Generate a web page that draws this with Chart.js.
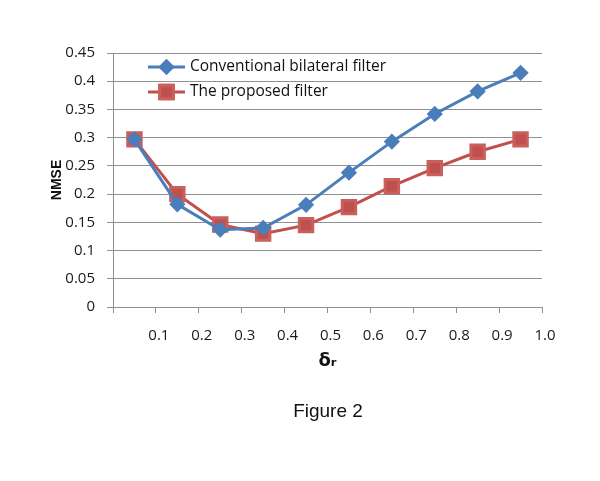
<!DOCTYPE html>
<html>
<head>
<meta charset="utf-8">
<script src="https://cdn.jsdelivr.net/npm/chart.js@4.4.1/dist/chart.umd.min.js"></script>
<style>
  html, body { margin: 0; padding: 0; background: #fff; }
  #wrap { position: relative; width: 600px; height: 481px; }
  #caption {
    position: absolute; left: 228px; width: 200px; top: 400px;
    text-align: center; font: 19px "Liberation Sans", Arial, sans-serif; color: #111;
  }
</style>
</head>
<body>
<div id="wrap">
  <canvas id="chart" width="600" height="481"></canvas>
  <div id="caption">Figure 2</div>
</div>
<script>
const deltaR = [0.05, 0.15, 0.25, 0.35, 0.45, 0.55, 0.65, 0.75, 0.85, 0.95]
const bilateral = [0.297, 0.182, 0.137, 0.140, 0.181, 0.238, 0.293, 0.342, 0.382, 0.415]
const proposed = [0.297, 0.200, 0.146, 0.130, 0.145, 0.177, 0.214, 0.246, 0.275, 0.297]
const seriesNames = ['Conventional bilateral filter', 'The proposed filter']

const BLUE = '#4A7EBB'
const RED = '#C0504D'
const GRID = '#909090'

function toPoints(xs, ys) {
    return xs.map((x, i) => ({ x: x, y: ys[i] }))
}

// legend drawn inside the plot, line + marker like the original
const insideLegend = {
    id: 'insideLegend',
    afterDatasetsDraw(chart) {
        const ctx = chart.ctx
        const x0 = 148, x1 = 185
        const rows = [67, 92]
        chart.data.datasets.forEach((ds, i) => {
            const y = rows[i]
            ctx.save()
            ctx.strokeStyle = ds.borderColor
            ctx.lineWidth = ds.borderWidth
            ctx.beginPath()
            ctx.moveTo(x0, y)
            ctx.lineTo(x1, y)
            ctx.stroke()
            Chart.helpers.drawPoint(ctx, {
                pointStyle: ds.pointStyle,
                radius: ds.pointRadius,
                borderWidth: 1,
                rotation: 0
            }, (x0 + x1) / 2, y)
            ctx.fillStyle = ds.pointBackgroundColor
            ctx.strokeStyle = ds.pointBorderColor
            ctx.fill()
            ctx.stroke()
            ctx.fillStyle = '#111'
            ctx.font = '15.5px "Open Sans", sans-serif'
            ctx.textBaseline = 'middle'
            ctx.fillText(ds.label, 190, y)
            ctx.restore()
        })
    }
}

new Chart(document.getElementById('chart'), {
    type: 'line',
    data: {
        datasets: [{
            label: seriesNames[0],
            data: toPoints(deltaR, bilateral),
            borderColor: BLUE,
            borderWidth: 3,
            pointStyle: 'rectRot',
            pointRadius: 6,
            pointBackgroundColor: BLUE,
            pointBorderColor: BLUE,
            tension: 0
        }, {
            label: seriesNames[1],
            data: toPoints(deltaR, proposed),
            borderColor: RED,
            borderWidth: 3,
            pointStyle: 'rect',
            pointRadius: 9.5,
            pointBackgroundColor: RED,
            pointBorderColor: '#c9605d',
            tension: 0
        }]
    },
    options: {
        responsive: false,
        animation: false,
        layout: { padding: { left: 49, right: 58, top: 53, bottom: 109 } },
        plugins: {
            legend: { display: false },
            tooltip: { enabled: false }
        },
        scales: {
            x: {
                type: 'linear',
                min: 0,
                max: 1,
                afterFit: s => { s.height = 65 },
                grid: { drawOnChartArea: false, drawTicks: true, tickLength: 6, color: GRID },
                border: { display: true, color: GRID },
                ticks: {
                    stepSize: 0.1,
                    padding: 14,
                    labelOffset: 3,
                    maxRotation: 0,
                    color: '#1a1a1a',
                    font: { family: 'Open Sans', size: 15 },
                    callback: v => v === 0 ? '' : v.toFixed(1)
                },
                title: {
                    display: true,
                    text: 'δᵣ',
                    color: '#111',
                    padding: 0,
                    font: { family: 'DejaVu Sans', size: 18, weight: 'bold' }
                }
            },
            y: {
                min: 0,
                max: 0.45,
                afterFit: s => { s.width = 64 },
                grid: { color: GRID, drawTicks: true, tickLength: 6 },
                border: { display: true, color: GRID },
                ticks: {
                    stepSize: 0.05,
                    padding: 12,
                    color: '#1a1a1a',
                    font: { family: 'Open Sans', size: 15 },
                    callback: v => String(Math.round(v * 100) / 100)
                },
                title: {
                    display: true,
                    text: 'NMSE',
                    color: '#111',
                    padding: 0,
                    font: { family: 'Liberation Sans', size: 14, weight: 'bold' }
                }
            }
        }
    },
    plugins: [insideLegend]
})
</script>
</body>
</html>
